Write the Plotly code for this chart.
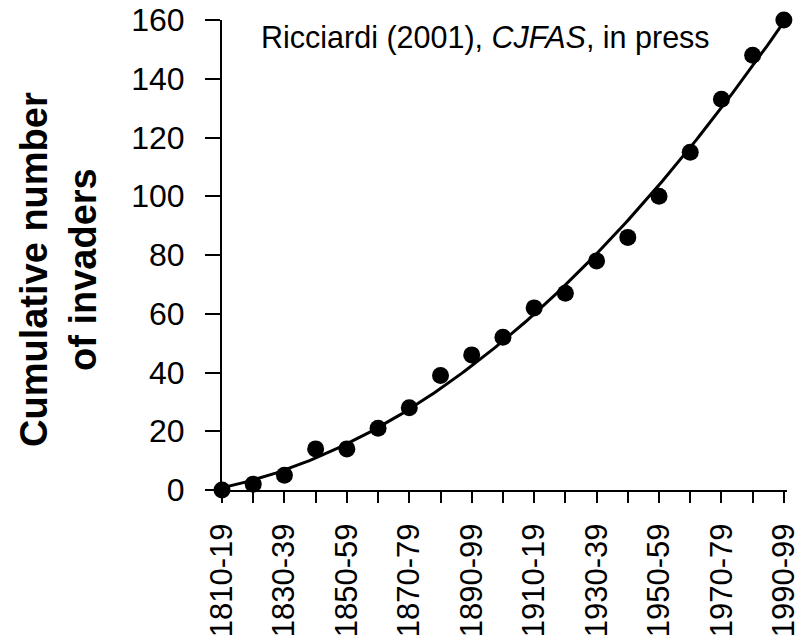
import numpy as np
import plotly.graph_objects as go

decades = ["1810-19", "1820-29", "1830-39", "1840-49", "1850-59", "1860-69",
           "1870-79", "1880-89", "1890-99", "1900-09", "1910-19", "1920-29",
           "1930-39", "1940-49", "1950-59", "1960-69", "1970-79", "1980-89",
           "1990-99"]
cumulative_invaders = [0, 2, 5, 14, 14, 21, 28, 39, 46, 52, 62, 67, 78, 86,
                       100, 115, 133, 148, 160]
y_ticks = [0, 20, 40, 60, 80, 100, 120, 140, 160]

FONT = "Liberation Sans, Arial, sans-serif"

idx = np.arange(len(decades))
vals = np.array(cumulative_invaders, dtype=float)

# fitted trend curve (quadratic least squares on the data)
coef = np.polyfit(idx, vals, 2)
xs = np.linspace(idx[0], idx[-1], 200)
ys = np.polyval(coef, xs)

tick_text = [d if i % 2 == 0 else "" for i, d in enumerate(decades)]

fig = go.Figure()
fig.add_trace(go.Scatter(x=xs, y=ys, mode="lines",
                         line=dict(color="black", width=3),
                         hoverinfo="skip", cliponaxis=False, showlegend=False))
fig.add_trace(go.Scatter(x=idx, y=vals, mode="markers",
                         marker=dict(color="black", size=17),
                         cliponaxis=False, showlegend=False))

fig.update_layout(
    width=802, height=639,
    margin=dict(l=222, r=15, t=20, b=149, autoexpand=False),
    paper_bgcolor="white", plot_bgcolor="white",
    font=dict(family=FONT, color="black"),
    xaxis=dict(range=[0, 18.1], tickmode="array", tickvals=idx.tolist(),
               ticktext=tick_text, tickangle=-90, ticks="outside", ticklen=11,
               tickwidth=2, tickcolor="black", showline=True, linecolor="black",
               linewidth=2, showgrid=False, zeroline=False, automargin=False,
               tickfont=dict(size=31, family=FONT, color="black"),
               ticklabelstandoff=8, ticklabeloverflow="allow"),
    yaxis=dict(range=[0, 160], tickmode="array", tickvals=y_ticks,
               ticks="outside", ticklen=15, tickwidth=2, tickcolor="black",
               showline=True, linecolor="black", linewidth=2, showgrid=False,
               zeroline=False, automargin=False,
               tickfont=dict(size=32, family=FONT, color="black"),
               ticklabelstandoff=14, ticklabeloverflow="allow"),
    annotations=[
        dict(text="<b>Cumulative number<br>of invaders</b>", xref="paper",
             yref="paper", x=0, y=0.5, xshift=-164, yshift=-15,
             xanchor="center", yanchor="middle", textangle=-90,
             showarrow=False,
             font=dict(size=38, family=FONT, color="black")),
        dict(text="Ricciardi (2001), <i>CJFAS</i>, in press", xref="paper",
             yref="paper", x=0, y=1, xshift=37, yshift=2, xanchor="left",
             yanchor="top", showarrow=False,
             font=dict(size=30.5, family=FONT, color="black")),
    ],
)

fig.write_html("out.html",
               config={"displayModeBar": False},
               post_script="document.body.style.margin='0';"
                           "document.body.style.overflow='hidden';")
